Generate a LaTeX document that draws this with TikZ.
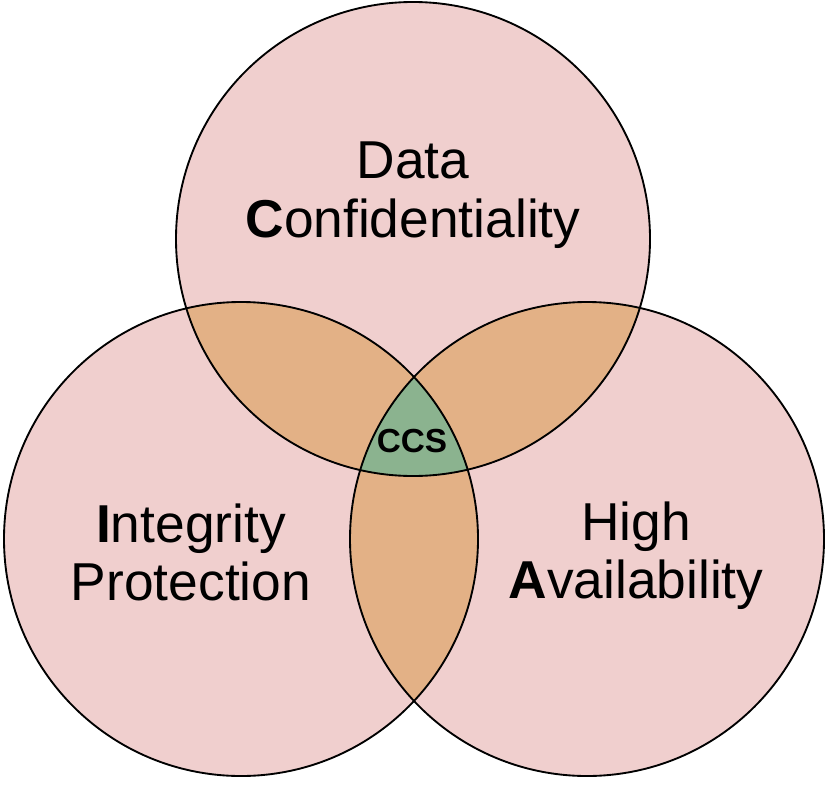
\documentclass[tikz,border=0pt]{standalone}
\usepackage{fontspec}
\setmainfont{Liberation Sans}
\definecolor{pinkfill}{RGB}{240,207,206}
\definecolor{orangefill}{RGB}{227,177,134}
\definecolor{greenfill}{RGB}{139,179,143}
\begin{document}
\begin{tikzpicture}[x=0.75pt,y=-0.75pt,
  ring/.style={draw=black,line width=1.4pt},
  lbl/.style={anchor=base,inner sep=0pt,font=\fontsize{40}{44}\selectfont},
  core/.style={anchor=base,inner sep=0pt,font=\fontsize{25}{29}\selectfont\bfseries}]
\useasboundingbox (0,0) rectangle (830,784);
\fill[white] (0,0) rectangle (830,784);
\coordinate (T) at (413,239);
\coordinate (L) at (241,539);
\coordinate (R) at (587,539);
\def\rad{237}
% base fills
\fill[pinkfill] (T) circle[radius=\rad];
\fill[pinkfill] (L) circle[radius=\rad];
\fill[pinkfill] (R) circle[radius=\rad];
% pairwise overlaps
\begin{scope}
  \clip (T) circle[radius=\rad];
  \fill[orangefill] (L) circle[radius=\rad];
  \fill[orangefill] (R) circle[radius=\rad];
\end{scope}
\begin{scope}
  \clip (L) circle[radius=\rad];
  \fill[orangefill] (R) circle[radius=\rad];
\end{scope}
% triple overlap
\begin{scope}
  \clip (T) circle[radius=\rad];
  \clip (L) circle[radius=\rad];
  \fill[greenfill] (R) circle[radius=\rad];
\end{scope}
% outlines
\draw[ring] (T) circle[radius=\rad];
\draw[ring] (L) circle[radius=\rad];
\draw[ring] (R) circle[radius=\rad];
% labels
\node[lbl] (dataA) at (413,179) {Data};
\node[lbl] (dataB) at (413,237) {\textbf{C}onfidentiality};
\node[lbl] (intA) at (191,542) {\textbf{I}ntegrity};
\node[lbl] (intB) at (191,600) {Protection};
\node[lbl] (avA) at (636,540) {High};
\node[lbl] (avB) at (636,598) {\textbf{A}vailability};
\node[core] (ccs) at (412,452) {CCS};
\end{tikzpicture}
\end{document}
